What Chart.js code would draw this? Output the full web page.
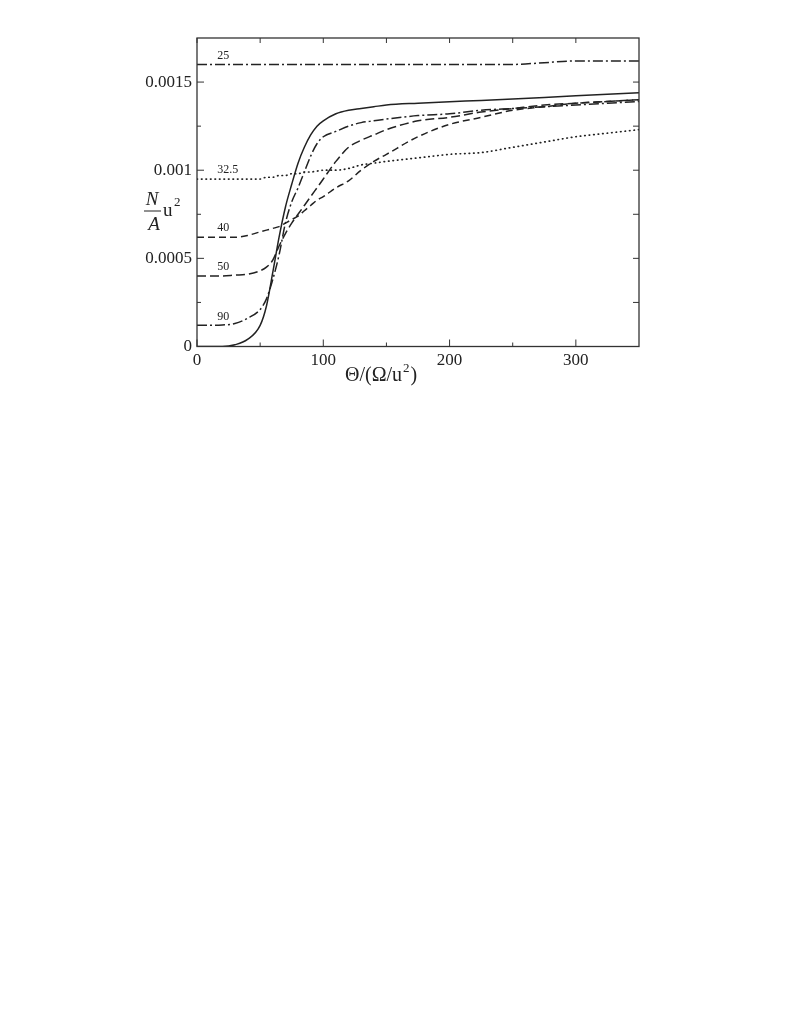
<!DOCTYPE html>
<html>
<head>
<meta charset="utf-8">
<script src="https://cdn.jsdelivr.net/npm/chart.js@4/dist/chart.umd.min.js"></script>
<style>
  html, body { margin: 0; padding: 0; background: #fff; }
  #wrap { position: relative; width: 789px; height: 400px; }
</style>
</head>
<body>
<div id="wrap"><canvas id="chart"></canvas></div>
<script>
// Theta / (Omega/u^2) sample points shared by every curve
const theta = [0, 10, 20, 30, 40, 50, 55, 60, 65, 70, 75, 80, 85, 90, 95, 100, 110, 120, 130, 140, 150, 175, 200, 225, 250, 275, 300, 325, 350];

// N/A u^2
const n25 = [0.0016, 0.0016, 0.0016, 0.0016, 0.0016, 0.0016, 0.0016, 0.0016, 0.0016, 0.0016, 0.0016, 0.0016, 0.0016, 0.0016, 0.0016, 0.0016, 0.0016, 0.0016, 0.0016, 0.0016, 0.0016, 0.0016, 0.0016, 0.0016, 0.0016, 0.00161, 0.00162, 0.00162, 0.00162];
const n32 = [0.00095, 0.00095, 0.00095, 0.00095, 0.00095, 0.00095, 0.00096, 0.00096, 0.00097, 0.00097, 0.00098, 0.00098, 0.00099, 0.00099, 0.000995, 0.001, 0.001, 0.00101, 0.00103, 0.00104, 0.00105, 0.00107, 0.00109, 0.0011, 0.00113, 0.00116, 0.00119, 0.00121, 0.00123];
const n40 = [0.00062, 0.00062, 0.00062, 0.00062, 0.00063, 0.00065, 0.00066, 0.00067, 0.00068, 0.0007, 0.00072, 0.00074, 0.00077, 0.0008, 0.00083, 0.00085, 0.0009, 0.00094, 0.001, 0.00105, 0.00109, 0.00119, 0.00126, 0.0013, 0.00134, 0.00136, 0.00138, 0.00139, 0.0014];
const n50 = [0.0004, 0.0004, 0.0004, 0.000405, 0.00041, 0.00043, 0.00045, 0.00049, 0.00057, 0.00064, 0.0007, 0.00075, 0.0008, 0.00085, 0.0009, 0.00095, 0.00105, 0.00113, 0.00117, 0.0012, 0.00123, 0.00128, 0.0013, 0.00133, 0.00135, 0.00137, 0.00138, 0.00139, 0.0014];
const n90 = [0.00012, 0.00012, 0.000122, 0.00013, 0.00016, 0.00021, 0.00027, 0.00038, 0.00052, 0.0007, 0.00082, 0.0009, 0.00099, 0.00108, 0.00115, 0.00119, 0.00122, 0.00125, 0.00127, 0.00128, 0.00129, 0.00131, 0.00132, 0.00134, 0.00135, 0.00136, 0.00137, 0.00138, 0.00139];
const nSolid = [0, 0, 0, 0.00001, 0.00004, 0.00012, 0.00023, 0.00042, 0.00062, 0.00079, 0.00092, 0.00104, 0.00113, 0.0012, 0.00125, 0.00128, 0.00132, 0.00134, 0.00135, 0.00136, 0.00137, 0.00138, 0.001388, 0.001396, 0.001404, 0.001413, 0.001422, 0.001431, 0.00144];

const curveNames = ['25', '32.5', '40', '50', '90', ''];
const curveValues = [n25, n32, n40, n50, n90, nSolid];
const curveDashes = [[10, 3, 2, 3], [0.5, 4], [7, 4], [9, 4], [10, 3, 2, 3], []];

const xTicks = [0, 100, 200, 300];
const xMinor = [50, 150, 250];
const yTicks = [0, 0.0005, 0.001, 0.0015];
const yMinor = [0.00025, 0.00075, 0.00125];

const ink = '#222';
const serif = '"Liberation Serif", "DejaVu Serif", serif';

const framePlugin = {
    id: 'frame',
    afterDraw(chart) {
        const { ctx, chartArea: a, scales } = chart;
        const xs = scales.x, ys = scales.y;
        ctx.save();
        ctx.strokeStyle = '#333';
        ctx.lineWidth = 1.3;
        ctx.strokeRect(a.left, a.top, a.right - a.left, a.bottom - a.top);

        ctx.lineWidth = 1;
        const tick = (x1, y1, x2, y2) => {
            ctx.beginPath();
            ctx.moveTo(x1, y1);
            ctx.lineTo(x2, y2);
            ctx.stroke();
        };
        xTicks.concat(xMinor).forEach(v => {
            const px = xs.getPixelForValue(v);
            const len = xTicks.includes(v) ? 7 : 4;
            tick(px, a.bottom, px, a.bottom - len);
            tick(px, a.top, px, a.top + 5);
        });
        yTicks.concat(yMinor).forEach(v => {
            const py = ys.getPixelForValue(v);
            const len = yTicks.includes(v) ? 7 : 4;
            tick(a.left, py, a.left + len, py);
            tick(a.right, py, a.right - 6, py);
        });

        // curve labels just above the left end of each curve
        ctx.fillStyle = ink;
        ctx.font = '12px ' + serif;
        ctx.textAlign = 'left';
        ctx.textBaseline = 'middle';
        curveNames.forEach((name, i) => {
            if (!name) return;
            const px = xs.getPixelForValue(16);
            const py = ys.getPixelForValue(curveValues[i][0]) - 9;
            ctx.fillText(name, px, py);
        });

        // x axis title
        ctx.textAlign = 'left';
        ctx.textBaseline = 'alphabetic';
        const x0 = 345;
        ctx.font = '20px ' + serif;
        ctx.fillText('Θ/(Ω/u', x0, 381);
        const w = ctx.measureText('Θ/(Ω/u').width;
        ctx.font = '13px ' + serif;
        ctx.fillText('2', x0 + w + 1, 372);
        const w2 = ctx.measureText('2').width;
        ctx.font = '20px ' + serif;
        ctx.fillText(')', x0 + w + w2 + 2, 381);

        // y axis title: N over A, times u^2
        ctx.textAlign = 'center';
        ctx.font = 'italic 19px ' + serif;
        ctx.fillText('N', 152, 205);
        ctx.fillText('A', 154, 230);
        ctx.strokeStyle = ink;
        ctx.lineWidth = 1;
        tick(144, 211, 161, 211);
        ctx.textAlign = 'left';
        ctx.font = '19px ' + serif;
        ctx.fillText('u', 163, 216);
        ctx.font = '13px ' + serif;
        ctx.fillText('2', 174, 206);
        ctx.restore();
    }
};

const datasets = curveValues.map((vals, i) => ({
    label: curveNames[i] || 'solid',
    data: theta.map((t, k) => ({ x: t, y: vals[k] })),
    borderColor: ink,
    borderWidth: i === 1 ? 1.7 : 1.5,
    borderDash: curveDashes[i],
    borderCapStyle: i === 1 ? 'round' : 'butt',
    pointRadius: 0,
    cubicInterpolationMode: 'monotone',
    fill: false
}));

new Chart(document.getElementById('chart'), {
    type: 'line',
    data: { datasets },
    options: {
        responsive: true,
        maintainAspectRatio: false,
        animation: false,
        layout: { padding: { top: 38, right: 150, bottom: 13.5, left: 0 } },
        plugins: {
            legend: { display: false },
            tooltip: { enabled: false }
        },
        scales: {
            x: {
                type: 'linear',
                min: 0,
                max: 350,
                grid: { display: false, drawTicks: false },
                border: { display: false },
                afterBuildTicks: s => { s.ticks = xTicks.map(v => ({ value: v })); },
                afterFit: s => { s.height = 40; },
                ticks: {
                    color: ink,
                    padding: 4,
                    maxRotation: 0,
                    font: { family: serif, size: 17 },
                    callback: v => String(v)
                }
            },
            y: {
                type: 'linear',
                min: 0,
                max: 0.00175,
                grid: { display: false, drawTicks: false },
                border: { display: false },
                afterBuildTicks: s => { s.ticks = yTicks.map(v => ({ value: v })); },
                afterFit: s => { s.width = 197; },
                ticks: {
                    color: ink,
                    padding: 5,
                    font: { family: serif, size: 17 },
                    callback: v => String(v)
                }
            }
        }
    },
    plugins: [framePlugin]
});
</script>
</body>
</html>
